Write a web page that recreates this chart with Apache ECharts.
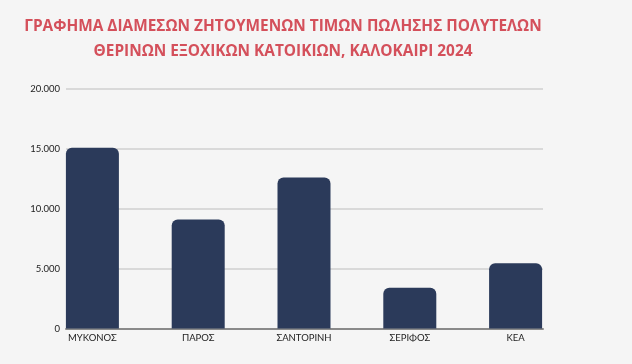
<!DOCTYPE html>
<html>
<head>
<meta charset="utf-8">
<script src="https://cdn.jsdelivr.net/npm/echarts@6/dist/echarts.min.js"></script>
<style>
html,body{margin:0;padding:0;background:#f5f5f5;}
#c{width:632px;height:364px;}
</style>
</head>
<body>
<div id="c"></div>
<script>
const titleLines = ["ΓΡΑΦΗΜΑ ΔΙΑΜΕΣΩΝ ΖΗΤΟΥΜΕΝΩΝ ΤΙΜΩΝ ΠΩΛΗΣΗΣ ΠΟΛΥΤΕΛΩΝ", "ΘΕΡΙΝΩΝ ΕΞΟΧΙΚΩΝ ΚΑΤΟΙΚΙΩΝ, ΚΑΛΟΚΑΙΡΙ 2024"];
const categories = ["ΜΥΚΟΝΟΣ", "ΠΑΡΟΣ", "ΣΑΝΤΟΡΙΝΗ", "ΣΕΡΙΦΟΣ", "ΚΕΑ"];
const values = [15100, 9100, 12600, 3400, 5450];
const yTicks = [0, 5000, 10000, 15000, 20000];

const fmt = v => v === 0 ? "0" : String(v).replace(/\B(?=(\d{3})+(?!\d))/g, ".");

const chart = echarts.init(document.getElementById('c'), null, {renderer: 'canvas'});
chart.setOption({
  backgroundColor: '#f5f5f5',
  animation: false,
  title: {
    text: titleLines.join('\n'),
    left: 278,
    textAlign: 'center',
    top: 9,
    textStyle: {
      color: '#d4505b',
      fontFamily: 'Open Sans',
      fontWeight: 'bold',
      fontSize: 15.4,
      lineHeight: 25
    }
  },
  grid: [
    {left: 66, right: 89, top: 89, bottom: 35.5},
    {left: 39.5, right: 63.5, top: 89, bottom: 35.5}
  ],
  xAxis: [
    {
      type: 'category', gridIndex: 0, data: categories,
      axisLine: {show: true, lineStyle: {color: '#8a8a8a', width: 2}},
      axisTick: {show: false}, axisLabel: {show: false}, splitLine: {show: false}
    },
    {
      type: 'category', gridIndex: 1, data: categories,
      axisLine: {show: false}, axisTick: {show: false},
      axisLabel: {color: '#222', fontFamily: 'Lato', fontSize: 9.5, margin: 4}
    }
  ],
  yAxis: [
    {
      type: 'value', gridIndex: 0, min: yTicks[0], max: yTicks[yTicks.length - 1], interval: 5000,
      axisLine: {show: false}, axisTick: {show: false},
      axisLabel: {color: '#222', fontFamily: 'Lato', fontSize: 9.5, margin: 6, formatter: fmt},
      splitLine: {show: true, lineStyle: {color: '#d9d9d9', width: 2}}
    },
    {
      type: 'value', gridIndex: 1, min: yTicks[0], max: yTicks[yTicks.length - 1], interval: 5000,
      show: false, splitLine: {show: false}
    }
  ],
  series: [{
    type: 'bar',
    xAxisIndex: 1, yAxisIndex: 1,
    data: values,
    barWidth: 53,
    itemStyle: {color: '#2b3a5a', borderRadius: [6, 6, 0, 0]},
    z: 5
  }]
});
</script>
</body>
</html>
